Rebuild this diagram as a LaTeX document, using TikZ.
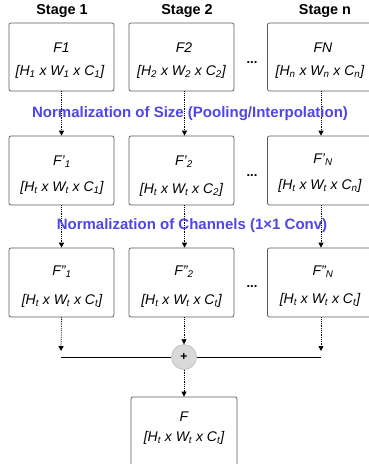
\documentclass[tikz,border=0pt]{standalone}
\usepackage{fontspec}
\setmainfont{Liberation Sans}
\usetikzlibrary{arrows.meta}
\definecolor{lbl}{HTML}{4F46E5}
\definecolor{bord}{HTML}{5A5A5A}
\definecolor{circfill}{HTML}{D9D9D9}
\begin{document}
\begin{tikzpicture}[x=1pt,y=-1pt,
  box/.style={draw=bord, line width=0.7pt, rounded corners=2pt, minimum width=105pt, minimum height=68pt, inner sep=0pt},
  txt/.style={inner sep=0pt, font=\fontsize{14}{16}\selectfont\itshape},
  hdr/.style={inner sep=0pt, font=\fontsize{14.4}{16}\selectfont\bfseries},
  lab/.style={inner sep=0pt, text=lbl, font=\fontsize{15}{17}\selectfont\bfseries},
  dots/.style={inner sep=0pt, font=\fontsize{13}{14}\selectfont\bfseries},
  arr/.style={densely dotted, line width=0.8pt, -{Triangle[length=5pt,width=5pt]}},
  sum/.style={circle, draw=gray!70, fill=circfill, minimum size=25pt, inner sep=0pt, font=\fontsize{12}{12}\selectfont\bfseries}
]
\useasboundingbox (0,0) rectangle (368,464);

% headers
\node[hdr] (h1) at (62,11) {Stage 1};
\node[hdr] (h2) at (187,11) {Stage 2};
\node[hdr] (h3) at (325,11) {Stage n};

% row 1
\node[box] (a1) at (61.5,57) {};
\node[box] (a2) at (181.5,57) {};
\node[box, minimum width=107pt] (a3) at (321,57) {};
\node[txt] (a1t) at (61.5,48) {F1};
\node[txt] (a1s) at (60,72) {[H\textsubscript{1} x W\textsubscript{1} x C\textsubscript{1}]};
\node[txt] (a2t) at (184,48) {F2};
\node[txt] (a2s) at (181.5,72) {[H\textsubscript{2} x W\textsubscript{2} x C\textsubscript{2}]};
\node[txt] (a3t) at (323,48) {FN};
\node[txt] (a3s) at (320,72) {[H\textsubscript{n} x W\textsubscript{n} x C\textsubscript{n}]};
\node[dots] (d1) at (252,63) {...};

% row 2
\node[box, minimum height=69pt] (b1) at (61.5,170.5) {};
\node[box, minimum height=69pt] (b2) at (181.5,170.5) {};
\node[box, minimum height=69pt, minimum width=107pt] (b3) at (321,170.5) {};
\node[txt] (b1t) at (62,162) {F’\textsubscript{1}};
\node[txt] (b1s) at (62,188) {[H\textsubscript{t} x W\textsubscript{t} x C\textsubscript{1}]};
\node[txt] (b2t) at (184,162) {F’\textsubscript{2}};
\node[txt] (b2s) at (181.5,190) {[H\textsubscript{t} x W\textsubscript{t} x C\textsubscript{2}]};
\node[txt] (b3t) at (323,160) {F’\textsubscript{N}};
\node[txt] (b3s) at (320,186) {[H\textsubscript{t} x W\textsubscript{t} x C\textsubscript{n}]};
\node[dots] (d2) at (252,176) {...};

% row 3
\node[box, minimum height=69pt] (c1) at (61.5,282.5) {};
\node[box, minimum height=69pt] (c2) at (181.5,282.5) {};
\node[box, minimum height=69pt, minimum width=107pt] (c3) at (321,282.5) {};
\node[txt] (c1t) at (62,272) {F”\textsubscript{1}};
\node[txt] (c1s) at (62,301) {[H\textsubscript{t} x W\textsubscript{t} x C\textsubscript{t}]};
\node[txt] (c2t) at (184,272) {F”\textsubscript{2}};
\node[txt] (c2s) at (181.5,301) {[H\textsubscript{t} x W\textsubscript{t} x C\textsubscript{t}]};
\node[txt] (c3t) at (323,272) {F”\textsubscript{N}};
\node[txt] (c3s) at (320,300) {[H\textsubscript{t} x W\textsubscript{t} x C\textsubscript{t}]};
\node[dots] (d3) at (252,287) {...};

% sum and output
\node[sum] (s) at (184,357) {+};
\node[box, minimum height=70pt, minimum width=106pt] (o) at (184,432) {};
\node[txt] (ot) at (184,417) {F};
\node[txt] (os) at (184,438) {[H\textsubscript{t} x W\textsubscript{t} x C\textsubscript{t}]};

\coordinate (j1) at (61,351);
\coordinate (j3) at (321,351);
\coordinate (l1) at (61,357);
\coordinate (l3) at (321,357);

% connectors
\draw[arr] (a1.south) -- (b1.north);
\draw[arr] ([xshift=3pt]a2.south) -- ([xshift=3pt]b2.north);
\draw[arr] (a3.south) -- (b3.north);
\draw[arr] (b1.south) -- (c1.north);
\draw[arr] ([xshift=3pt]b2.south) -- ([xshift=3pt]c2.north);
\draw[arr] (b3.south) -- (c3.north);
\draw[arr] (c1.south) -- (j1);
\draw[arr] (c3.south) -- (j3);
\draw[arr] ([xshift=2.5pt]c2.south) -- (s.north);
\draw[line width=0.9pt] (l1) -- (s.west);
\draw[line width=0.9pt] (s.east) -- (l3);
\draw[arr] (s.south) -- (o.north);

% labels
\node[lab] (n1) at (190,114) {Normalization of Size (Pooling/Interpolation)};
\node[lab] (n2) at (192,226) {Normalization of Channels (1×1 Conv)};
\end{tikzpicture}
\end{document}
